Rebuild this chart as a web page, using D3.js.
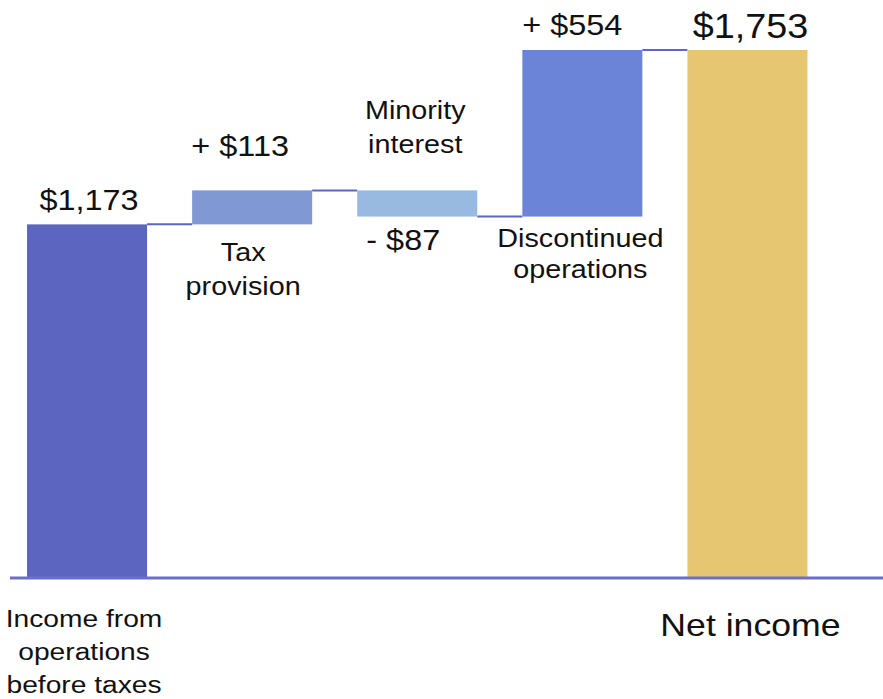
<!DOCTYPE html>
<html>
<head>
<meta charset="utf-8">
<script src="https://cdn.jsdelivr.net/npm/d3@7/dist/d3.min.js"></script>
<style>
  html, body { margin: 0; padding: 0; background: #fff; }
  svg { display: block; font-family: "Liberation Sans", Arial, Helvetica, sans-serif; }
</style>
</head>
<body>
<svg id="chart" width="883" height="699"></svg>
<script>
// Waterfall: from operating income to net income
const steps = ["start", "tax", "minority", "discontinued", "net"];
const amounts = [1173, 113, -87, 554, 1753];
const kinds = ["total", "delta", "delta", "delta", "total"];
const valueLabels = ["$1,173", "+ $113", "- $87", "+ $554", "$1,753"];
const nameLabels = [
  ["Income from", "operations", "before taxes"],
  ["Tax", "provision"],
  ["Minority", "interest"],
  ["Discontinued", "operations"],
  ["Net income"]
];
const barColors = ["#5c66c0", "#8098d3", "#98b9e1", "#6c84d7", "#e6c671"];

const svg = d3.select("#chart");
const baseY = 577;

// Running totals give each bar its start and end level
let running = 0;
const bars = steps.map((s, i) => {
  let y0, y1;
  if (kinds[i] === "total") { y0 = 0; y1 = amounts[i]; running = amounts[i]; }
  else { y0 = running; y1 = running + amounts[i]; running = y1; }
  return { key: s, i, lo: Math.min(y0, y1), hi: Math.max(y0, y1), end: y1 };
});

const x = d3.scaleBand().domain(steps).range([4.5, 830]).paddingInner(0.273).paddingOuter(0.1365);
const y = d3.scaleLinear().domain([0, 1753]).range([baseY, 50]);

// connectors between consecutive bars
const conn = svg.append("g");
for (let i = 0; i < bars.length - 1; i++) {
  const lvl = bars[i].end;
  conn.append("line")
    .attr("x1", x(steps[i]) + x.bandwidth())
    .attr("x2", x(steps[i + 1]))
    .attr("y1", y(lvl)).attr("y2", y(lvl))
    .attr("stroke", "#5c66c8").attr("stroke-width", 2);
}

svg.append("g").selectAll("rect").data(bars).join("rect")
  .attr("x", d => x(d.key))
  .attr("width", x.bandwidth())
  .attr("y", d => y(d.hi))
  .attr("height", d => y(d.lo) - y(d.hi))
  .attr("fill", (d, i) => barColors[i]);

// baseline
svg.append("line")
  .attr("x1", 10).attr("x2", 883)
  .attr("y1", baseY + 1).attr("y2", baseY + 1)
  .attr("stroke", "#6a70c8").attr("stroke-width", 3);

const cx = k => x(k) + x.bandwidth() / 2;

// text drawn slightly widened
function label(g, lines, px, py, size, lh, sx) {
  const t = g.append("text")
    .attr("transform", `translate(${px},${py}) scale(${sx},1)`)
    .attr("text-anchor", "middle")
    .attr("font-size", size)
    .attr("fill", "#111");
  lines.forEach((ln, j) => {
    t.append("tspan").attr("x", 0).attr("y", j * lh).text(ln);
  });
}

// value labels
const valPos = [
  { dx: 2, y: 210, size: 30 },
  { dx: -12, y: 156, size: 30 },
  { dx: -14, y: 250, size: 30 },
  { dx: -10, y: 35, size: 30 },
  { dx: 3, y: 38, size: 35 }
];
const vg = svg.append("g");
valueLabels.forEach((v, i) => {
  label(vg, [v], cx(steps[i]) + valPos[i].dx, valPos[i].y, valPos[i].size, 0, 1.08);
});

// category labels
const namePos = [
  { dx: -3, y: 627, lh: 33, size: 24.5 },
  { dx: -9, y: 261, lh: 34, size: 25 },
  { dx: -2, y: 119, lh: 34, size: 25 },
  { dx: -2, y: 247, lh: 31, size: 25 },
  { dx: 3, y: 636, lh: 0, size: 31 }
];
const ng = svg.append("g");
nameLabels.forEach((lines, i) => {
  label(ng, lines, cx(steps[i]) + namePos[i].dx, namePos[i].y, namePos[i].size, namePos[i].lh, 1.15);
});
</script>
</body>
</html>
